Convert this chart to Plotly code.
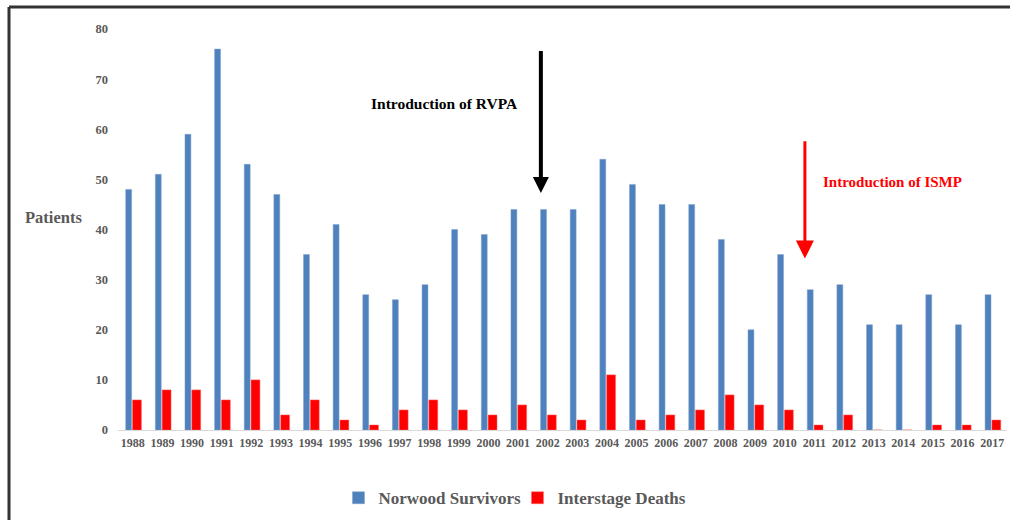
import plotly.graph_objects as go

years = [str(y) for y in range(1988, 2018)]
survivors = [48, 51, 59, 76, 53, 47, 35, 41, 27, 26, 29, 40, 39, 44, 44, 44, 54, 49, 45, 45,
             38, 20, 35, 28, 29, 21, 21, 27, 21, 27]
deaths = [6, 8, 8, 6, 10, 3, 6, 2, 1, 4, 6, 4, 3, 5, 3, 2, 11, 2, 3, 4,
          7, 5, 4, 1, 3, 0, 0, 1, 1, 2]
y_ticks = [0, 10, 20, 30, 40, 50, 60, 70, 80]

FONT = "Liberation Serif"
GRAY = "#595959"

fig = go.Figure()
fig.add_trace(go.Bar(
    x=years, y=survivors, name="Norwood Survivors",
    marker=dict(color="#4f81bd", line=dict(color="#7fa3d0", width=0.5)),
    width=0.2, offset=-0.24,
))
fig.add_trace(go.Bar(
    x=years, y=deaths, name="Interstage Deaths",
    marker=dict(color="#ff0000", line=dict(color="#ff6666", width=0.5)),
    width=0.3, offset=-0.01,
))

fig.update_layout(
    width=1010, height=520,
    margin=dict(l=118, r=3, t=29, b=90),
    paper_bgcolor="white", plot_bgcolor="white",
    barmode="overlay",
    showlegend=True,
    legend=dict(
        orientation="h", x=0.248, xanchor="left", y=-0.17, yanchor="middle",
        font=dict(family=FONT, size=17, color=GRAY, weight="bold"),
        traceorder="normal", entrywidth=134, entrywidthmode="pixels",
    ),
    font=dict(family=FONT, color=GRAY),
)

fig.update_xaxes(
    type="category", showgrid=False, showline=True, linecolor="#d9d9d9", linewidth=1,
    ticks="", tickfont=dict(family=FONT, size=12, color=GRAY, weight="bold"), ticklabelstandoff=2,
    tickangle=0,
)
fig.update_yaxes(
    range=[0, 80], tickvals=y_ticks, showgrid=False, showline=False, zeroline=False,
    ticks="", tickfont=dict(family=FONT, size=12.5, color=GRAY, weight="bold"), ticklabelstandoff=9,
)

# Y label (horizontal)
fig.add_annotation(
    text="<b>Patients</b>", xref="paper", yref="paper", xanchor="center", yanchor="middle",
    x=(53.5 - 118) / 889, y=(430 - 218) / 401, showarrow=False,
    font=dict(family=FONT, size=16.5, color=GRAY),
)

# RVPA arrow and text
fig.add_annotation(
    x=13.77, y=47.3, ax=13.77, ay=75.9, xref="x", yref="y", axref="x", ayref="y",
    text="", showarrow=True, arrowhead=2, arrowsize=0.8, arrowwidth=4, arrowcolor="black",
)
fig.add_annotation(
    x=10.52, y=65.2, xref="x", yref="y", text="<b>Introduction of RVPA</b>", showarrow=False,
    font=dict(family=FONT, size=15.5, color="black"),
)

# ISMP arrow and text
fig.add_annotation(
    x=22.68, y=34.2, ax=22.68, ay=57.9, xref="x", yref="y", axref="x", ayref="y",
    text="", showarrow=True, arrowhead=2, arrowsize=1.2, arrowwidth=3, arrowcolor="#ff0000",
)
fig.add_annotation(
    x=25.65, y=49.5, xref="x", yref="y", text="<b>Introduction of ISMP</b>", showarrow=False,
    font=dict(family=FONT, size=15, color="#ff0000"),
)

# Outer frame lines (top and left)
top_y = (430 - 7) / 401
left_x = (9 - 118) / 889
fig.add_shape(type="line", xref="paper", yref="paper", x0=left_x, x1=1.05, y0=top_y, y1=top_y,
              line=dict(color="#333333", width=3))
fig.add_shape(type="line", xref="paper", yref="paper", x0=left_x, x1=left_x, y0=top_y, y1=-0.3,
              line=dict(color="#333333", width=3))

fig.write_html("out.html", config={"displayModeBar": False},
               post_script="document.body.style.margin='0';document.body.style.overflow='hidden';")
